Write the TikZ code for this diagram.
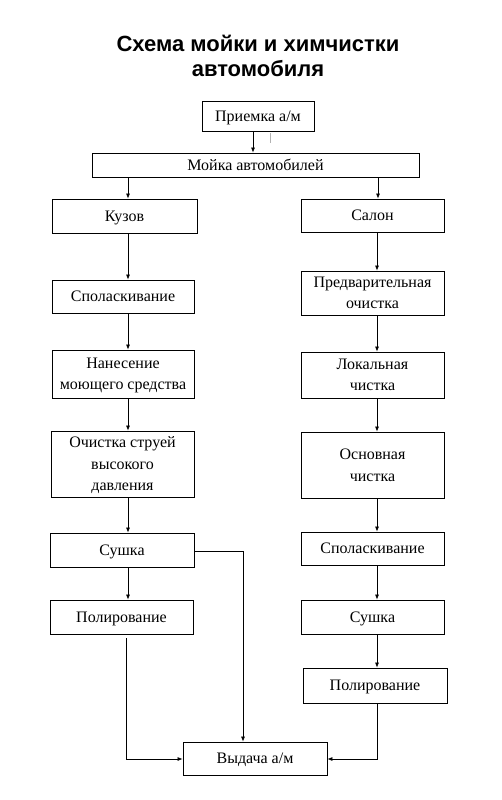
\documentclass[tikz,border=0pt]{standalone}
\usepackage{fontspec}
\setmainfont{Liberation Serif}
\newfontfamily\titlefont{Liberation Sans}
\usetikzlibrary{arrows.meta}
\begin{document}
\begin{tikzpicture}[x=1pt,y=-1pt,
  box/.style={draw,line width=0.8pt,align=center,font=\fontsize{16}{21.5}\selectfont,inner sep=0pt,text depth=0pt},
  arr/.style={-{Latex[length=5pt,width=4pt]},line width=0.7pt}]
\useasboundingbox (0,0) rectangle (502,800);
\node[font=\titlefont\bfseries\fontsize{22}{25}\selectfont,align=center] (title) at (258,56) {Схема мойки и химчистки\\автомобиля};
% boxes: defined by corners
\newcommand{\bx}[6]{\node[box,minimum width={#4-#2},minimum height={#5-#3}] (#1) at ({(#2+#4)/2},{(#3+#5)/2}) {#6};}
\bx{priem}{202}{101}{314}{131}{Приемка а/м}
\bx{moika}{92}{153}{419}{177}{Мойка автомобилей}
\bx{kuzov}{52}{199}{197}{233}{Кузов}
\bx{salon}{301}{199}{444}{232}{Салон}
\bx{l1}{52}{280}{194}{313}{Споласкивание}
\bx{l2}{52}{350}{194}{398}{Нанесение\\моющего средства}
\bx{l3}{51}{431}{194}{497}{Очистка струей\\высокого\\давления}
\bx{l4}{50}{533}{194}{567}{Сушка}
\bx{l5}{50}{600}{193}{634}{Полирование}
\bx{r1}{301}{271}{444}{315}{Предварительная\\очистка}
\bx{r2}{301}{352}{444}{398}{Локальная\\чистка}
\bx{r3}{301}{432}{444}{498}{Основная\\чистка}
\bx{r4}{301}{532}{444}{565}{Споласкивание}
\bx{r5}{301}{600}{444}{634}{Сушка}
\bx{r6}{303}{668}{447}{703}{Полирование}
\bx{vyd}{183}{742}{327}{775}{Выдача а/м}
% small grey tick
\coordinate (t1) at (270,133);
\coordinate (t2) at (270,143);
\draw[gray!60,line width=0.6pt] (t1) -- (t2);
% arrows
\draw[arr] (priem.south -| 253,0) -- (moika.north -| 253,0);
\draw[arr] (moika.south -| 128,0) -- (kuzov.north -| 128,0);
\draw[arr] (moika.south -| 378,0) -- (salon.north -| 378,0);
\draw[arr] (kuzov.south -| 128,0) -- (l1.north -| 128,0);
\draw[arr] (l1.south -| 128,0) -- (l2.north -| 128,0);
\draw[arr] (l2.south -| 128,0) -- (l3.north -| 128,0);
\draw[arr] (l3.south -| 128,0) -- (l4.north -| 128,0);
\draw[arr] (l4.south -| 128,0) -- (l5.north -| 128,0);
\draw[arr] (salon.south -| 377,0) -- (r1.north -| 377,0);
\draw[arr] (r1.south -| 377,0) -- (r2.north -| 377,0);
\draw[arr] (r2.south -| 377,0) -- (r3.north -| 377,0);
\draw[arr] (r3.south -| 377,0) -- (r4.north -| 377,0);
\draw[arr] (r4.south -| 377,0) -- (r5.north -| 377,0);
\draw[arr] (r5.south -| 377,0) -- (r6.north -| 377,0);
\draw[arr] (l4.east |- 0,551) -| (vyd.north -| 243,0);
\draw[arr] (126,638) |- (vyd.west |- 0,759);
\draw[arr] (r6.south -| 377,0) |- (vyd.east |- 0,759);
\end{tikzpicture}
\end{document}
